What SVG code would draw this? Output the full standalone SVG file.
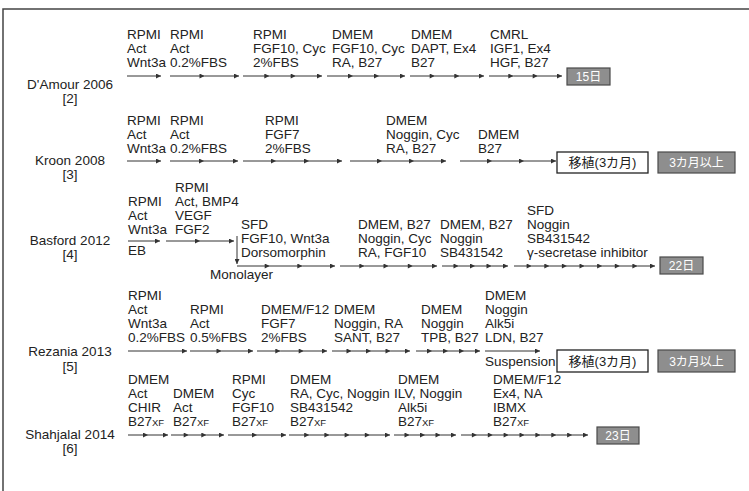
<svg xmlns="http://www.w3.org/2000/svg" width="749" height="491" viewBox="0 0 749 491">
<defs>
<style>
.t{font-family:"Liberation Sans","Noto Sans CJK JP",Arial,sans-serif;font-size:13.5px;fill:#222}
.lab{text-anchor:middle}
.xf{font-size:9.5px}
.ar{stroke:#333;stroke-width:1;fill:none;marker-mid:url(#ah);marker-end:url(#ah)}
.gb{fill:#8e8e8e;stroke:#4a4a4a;stroke-width:1.2}
.wb{fill:#fff;stroke:#222;stroke-width:1.3}
.gt{font-family:"Liberation Sans","Noto Sans CJK JP",sans-serif;font-size:12px;fill:#fff;text-anchor:middle}
.bt{font-family:"Liberation Sans","Noto Sans CJK JP",sans-serif;font-size:13px;fill:#222;text-anchor:middle}
</style>
<marker id="ah" viewBox="0 0 10 10" refX="10" refY="5" markerWidth="6" markerHeight="5" markerUnits="userSpaceOnUse" orient="auto">
<path d="M0,0L10,5L0,10z" fill="#333"/>
</marker>
</defs>
<rect width="749" height="491" fill="#fff"/>
<path d="M3,491V9H749" fill="none" stroke="#444" stroke-width="1.5"/>

<!-- D'Amour 2006 -->
<g id="damour">
<text class="t lab" x="70" y="89">D'Amour 2006</text>
<text class="t lab" x="70" y="103">[2]</text>
<g id="damour-s1"><text class="t" x="127" y="39">RPMI</text><text class="t" x="127" y="53">Act</text><text class="t" x="127" y="67">Wnt3a</text></g>
<g id="damour-s2"><text class="t" x="170" y="39">RPMI</text><text class="t" x="170" y="53">Act</text><text class="t" x="170" y="67">0.2%FBS</text></g>
<g id="damour-s3"><text class="t" x="253" y="39">RPMI</text><text class="t" x="253" y="53">FGF10, Cyc</text><text class="t" x="253" y="67">2%FBS</text></g>
<g id="damour-s4"><text class="t" x="332" y="39">DMEM</text><text class="t" x="332" y="53">FGF10, Cyc</text><text class="t" x="332" y="67">RA, B27</text></g>
<g id="damour-s5"><text class="t" x="411" y="39">DMEM</text><text class="t" x="411" y="53">DAPT, Ex4</text><text class="t" x="411" y="67">B27</text></g>
<g id="damour-s6"><text class="t" x="490" y="39">CMRL</text><text class="t" x="490" y="53">IGF1, Ex4</text><text class="t" x="490" y="67">HGF, B27</text></g>
<g id="damour-end"><rect class="gb" x="567" y="68" width="43" height="17"/><text class="gt" x="588.5" y="81">15日</text></g>
</g>

<!-- Kroon 2008 -->
<g id="kroon">
<text class="t lab" x="70" y="165">Kroon 2008</text>
<text class="t lab" x="70" y="179">[3]</text>
<g id="kroon-s1"><text class="t" x="127" y="125">RPMI</text><text class="t" x="127" y="139">Act</text><text class="t" x="127" y="153">Wnt3a</text></g>
<g id="kroon-s2"><text class="t" x="170" y="125">RPMI</text><text class="t" x="170" y="139">Act</text><text class="t" x="170" y="153">0.2%FBS</text></g>
<g id="kroon-s3"><text class="t" x="265" y="125">RPMI</text><text class="t" x="265" y="139">FGF7</text><text class="t" x="265" y="153">2%FBS</text></g>
<g id="kroon-s4"><text class="t" x="386" y="125">DMEM</text><text class="t" x="386" y="139">Noggin, Cyc</text><text class="t" x="386" y="153">RA, B27</text></g>
<g id="kroon-s5"><text class="t" x="478" y="139">DMEM</text><text class="t" x="478" y="153">B27</text></g>
<g id="kroon-tx"><rect class="wb" x="557" y="152" width="91" height="21"/><text class="bt" x="602.5" y="167">移植(3カ月)</text></g>
<g id="kroon-end"><rect class="gb" x="658" y="152" width="77" height="21"/><text class="gt" x="696.5" y="167">3カ月以上</text></g>
</g>

<!-- Basford 2012 -->
<g id="basford">
<text class="t lab" x="70" y="245">Basford 2012</text>
<text class="t lab" x="70" y="259">[4]</text>
<g id="basford-s1"><text class="t" x="128" y="206">RPMI</text><text class="t" x="128" y="220">Act</text><text class="t" x="128" y="234">Wnt3a</text><text class="t" x="128" y="255">EB</text></g>
<g id="basford-s2"><text class="t" x="175" y="192">RPMI</text><text class="t" x="175" y="206">Act, BMP4</text><text class="t" x="175" y="220">VEGF</text><text class="t" x="175" y="234">FGF2</text></g>
<g id="basford-s3"><text class="t" x="241" y="229">SFD</text><text class="t" x="241" y="243">FGF10, Wnt3a</text><text class="t" x="241" y="257">Dorsomorphin</text><text class="t" x="210" y="279">Monolayer</text></g>
<g id="basford-s4"><text class="t" x="358" y="229">DMEM, B27</text><text class="t" x="358" y="243">Noggin, Cyc</text><text class="t" x="358" y="257">RA, FGF10</text></g>
<g id="basford-s5"><text class="t" x="440" y="229">DMEM, B27</text><text class="t" x="440" y="243">Noggin</text><text class="t" x="440" y="257">SB431542</text></g>
<g id="basford-s6"><text class="t" x="527" y="215">SFD</text><text class="t" x="527" y="229">Noggin</text><text class="t" x="527" y="243">SB431542</text><text class="t" x="527" y="257">γ-secretase inhibitor</text></g>
<g id="basford-end"><rect class="gb" x="660" y="257" width="43" height="17"/><text class="gt" x="681.5" y="270">22日</text></g>
</g>

<!-- Rezania 2013 -->
<g id="rezania">
<text class="t lab" x="70" y="356">Rezania 2013</text>
<text class="t lab" x="70" y="371">[5]</text>
<g id="rezania-s1"><text class="t" x="128" y="300">RPMI</text><text class="t" x="128" y="314">Act</text><text class="t" x="128" y="328">Wnt3a</text><text class="t" x="128" y="342">0.2%FBS</text></g>
<g id="rezania-s2"><text class="t" x="190" y="314">RPMI</text><text class="t" x="190" y="328">Act</text><text class="t" x="190" y="342">0.5%FBS</text></g>
<g id="rezania-s3"><text class="t" x="261" y="314">DMEM/F12</text><text class="t" x="261" y="328">FGF7</text><text class="t" x="261" y="342">2%FBS</text></g>
<g id="rezania-s4"><text class="t" x="334" y="314">DMEM</text><text class="t" x="334" y="328">Noggin, RA</text><text class="t" x="334" y="342">SANT, B27</text></g>
<g id="rezania-s5"><text class="t" x="421" y="314">DMEM</text><text class="t" x="421" y="328">Noggin</text><text class="t" x="421" y="342">TPB, B27</text></g>
<g id="rezania-s6"><text class="t" x="485" y="300">DMEM</text><text class="t" x="485" y="314">Noggin</text><text class="t" x="485" y="328">Alk5i</text><text class="t" x="485" y="342">LDN, B27</text><text class="t" x="485" y="366">Suspension</text></g>
<g id="rezania-tx"><rect class="wb" x="557" y="350" width="91" height="22"/><text class="bt" x="602.5" y="366">移植(3カ月)</text></g>
<g id="rezania-end"><rect class="gb" x="658" y="350" width="77" height="22"/><text class="gt" x="696.5" y="366">3カ月以上</text></g>
</g>

<!-- Shahjalal 2014 -->
<g id="shahjalal">
<text class="t lab" x="70" y="439">Shahjalal 2014</text>
<text class="t lab" x="70" y="453">[6]</text>
<g id="shahjalal-s1"><text class="t" x="128" y="384">DMEM</text><text class="t" x="128" y="398">Act</text><text class="t" x="128" y="412">CHIR</text><text class="t" x="128" y="426">B27<tspan class="xf">XF</tspan></text></g>
<g id="shahjalal-s2"><text class="t" x="173" y="398">DMEM</text><text class="t" x="173" y="412">Act</text><text class="t" x="173" y="426">B27<tspan class="xf">XF</tspan></text></g>
<g id="shahjalal-s3"><text class="t" x="232" y="384">RPMI</text><text class="t" x="232" y="398">Cyc</text><text class="t" x="232" y="412">FGF10</text><text class="t" x="232" y="426">B27<tspan class="xf">XF</tspan></text></g>
<g id="shahjalal-s4"><text class="t" x="290" y="384">DMEM</text><text class="t" x="290" y="398">RA, Cyc, Noggin</text><text class="t" x="290" y="412">SB431542</text><text class="t" x="290" y="426">B27<tspan class="xf">XF</tspan></text></g>
<g id="shahjalal-s5"><text class="t" x="398" y="384">DMEM</text><text class="t" x="394" y="398">ILV, Noggin</text><text class="t" x="398" y="412">Alk5i</text><text class="t" x="398" y="426">B27<tspan class="xf">XF</tspan></text></g>
<g id="shahjalal-s6"><text class="t" x="493" y="384">DMEM/F12</text><text class="t" x="493" y="398">Ex4, NA</text><text class="t" x="493" y="412">IBMX</text><text class="t" x="493" y="426">B27<tspan class="xf">XF</tspan></text></g>
<g id="shahjalal-end"><rect class="gb" x="597" y="427" width="42" height="17"/><text class="gt" x="618" y="440">23日</text></g>
</g>

<g id="connectors">
<!-- D'Amour -->
<path class="ar" d="M127,76H161"/>
<path class="ar" d="M170,76H204.5H239"/>
<path class="ar" d="M243,76H269.3H295.7H322"/>
<path class="ar" d="M327,76H353H379H405"/>
<path class="ar" d="M410,76H434.7H459.3H484"/>
<path class="ar" d="M489,76H513.3H537.7H562"/>
<!-- Kroon -->
<path class="ar" d="M127,161H161"/>
<path class="ar" d="M170,161H204H238"/>
<path class="ar" d="M243,161H276H309H342"/>
<path class="ar" d="M350,161H382H414H446"/>
<path class="ar" d="M460,161H492H524H556"/>
<!-- Basford -->
<path class="ar" d="M128,241H160"/>
<path class="ar" d="M166,241H200H234"/>
<path class="ar" d="M237,236V264"/>
<path class="ar" d="M237,266H269.7H302.3H335"/>
<path class="ar" d="M340,266H364.3H388.5H412.8H437"/>
<path class="ar" d="M442,266H458.5H475H491.5H508"/>
<path class="ar" d="M514,266H531.6H549.3H566.9H584.5H602.1H619.8H637.4H655"/>
<!-- Rezania -->
<path class="ar" d="M128,351H187"/>
<path class="ar" d="M190,351H221.5H253"/>
<path class="ar" d="M257,351H280.3H303.7H327"/>
<path class="ar" d="M332,351H351.5H371H390.5H410"/>
<path class="ar" d="M416,351H432H448H464H480"/>
<path class="ar" d="M485,351H540"/>
<!-- Shahjalal -->
<path class="ar" d="M128,435H148H168"/>
<path class="ar" d="M171,435H188.7H206.3H224"/>
<path class="ar" d="M228,435H257H286"/>
<path class="ar" d="M289,435H309.2H329.4H349.6H369.8H390"/>
<path class="ar" d="M394,435H409.5H425H440.5H456"/>
<path class="ar" d="M461,435H476.9H492.8H508.6H524.5H540.4H556.3H572.1H588"/>
</g>
</svg>
